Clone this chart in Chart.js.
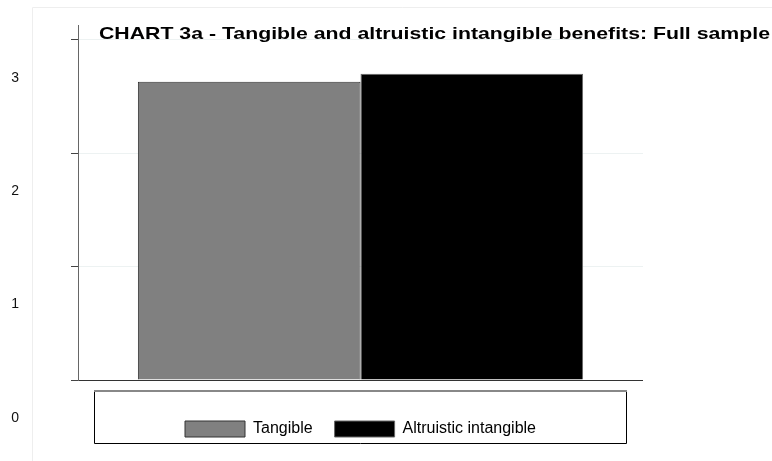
<!DOCTYPE html>
<html>
<head>
<meta charset="utf-8">
<script src="https://cdn.jsdelivr.net/npm/chart.js@4.4.1/dist/chart.umd.min.js"></script>
<style>
  html, body { margin: 0; padding: 0; background: #fff; }
  #wrap { width: 772px; height: 461px; }
</style>
</head>
<body>
<div id="wrap"><canvas id="c" width="772" height="461"></canvas></div>
<script>
// Chart data
const categories = ['Full sample'];
const seriesNames = ['Tangible', 'Altruistic intangible'];
const tangible = [2.63];
const altruistic = [2.70];
const yTicks = [0, 1, 2, 3];
const titleText = 'CHART 3a - Tangible and altruistic intangible benefits: Full sample';

const FONT = '"Liberation Sans", Arial, Helvetica, sans-serif';

// Title, outer frame and legend frame drawn around the chart
const decorations = {
  id: 'decorations',
  beforeDraw(chart) {
    const ctx = chart.ctx;
    ctx.save();
    ctx.strokeStyle = '#eeeeee';
    ctx.lineWidth = 1;
    ctx.beginPath();
    ctx.moveTo(32.5, 461);
    ctx.lineTo(32.5, 7.5);
    ctx.lineTo(772, 7.5);
    ctx.stroke();
    ctx.restore();
  },
  afterDraw(chart) {
    const ctx = chart.ctx;
    ctx.save();
    // legend frame
    ctx.strokeStyle = '#000';
    ctx.lineWidth = 1;
    ctx.beginPath();
    ctx.moveTo(94.5, 391);
    ctx.lineTo(94.5, 443.5);
    ctx.lineTo(626.5, 443.5);
    ctx.lineTo(626.5, 391);
    ctx.stroke();
    ctx.strokeStyle = '#888';
    ctx.lineWidth = 2;
    ctx.beginPath();
    ctx.moveTo(94, 391);
    ctx.lineTo(627, 391);
    ctx.stroke();
    // title, set in a wide bold face
    ctx.fillStyle = '#000';
    ctx.font = 'bold 17px ' + FONT;
    ctx.textBaseline = 'alphabetic';
    ctx.textAlign = 'left';
    const w = ctx.measureText(titleText).width;
    ctx.translate(99, 38.5);
    ctx.scale(671 / w, 1);
    ctx.fillText(titleText, 0, 0);
    ctx.restore();
  }
};

new Chart(document.getElementById('c'), {
  type: 'bar',
  data: {
    labels: categories,
    datasets: [
      {
        label: seriesNames[0],
        data: tangible,
        backgroundColor: '#808080',
        borderColor: '#333',
        borderWidth: 1
      },
      {
        label: seriesNames[1],
        data: altruistic,
        backgroundColor: '#000000',
        borderColor: '#666',
        borderWidth: 1
      }
    ]
  },
  options: {
    responsive: false,
    animation: false,
    devicePixelRatio: 1,
    layout: { padding: { top: 25, right: 129, bottom: 14, left: 0 } },
    datasets: { bar: { categoryPercentage: 0.788, barPercentage: 1 } },
    plugins: {
      title: { display: false },
      tooltip: { enabled: false },
      legend: {
        position: 'bottom',
        fullSize: false,
        labels: {
          boxWidth: 60,
          boxHeight: 16,
          padding: 22,
          color: '#000',
          font: { family: FONT, size: 16 }
        }
      }
    },
    scales: {
      x: {
        display: true,
        ticks: { display: false },
        grid: { display: false, drawTicks: false },
        border: { display: false },
        afterFit(scale) { scale.height = 19; }
      },
      y: {
        min: 0,
        max: 3.13,
        afterFit(scale) {
          scale.width = 78;
          scale.paddingTop = 0;
          scale.paddingBottom = 0;
        },
        afterBuildTicks(scale) { scale.ticks = yTicks.map(v => ({ value: v })); },
        ticks: {
          stepSize: 1,
          includeBounds: false,
          padding: 52,
          labelOffset: 38,
          color: '#111',
          font: { family: FONT, size: 14 }
        },
        grid: {
          drawTicks: true,
          tickLength: 7,
          lineWidth: 1,
          color: c => (c.tick && c.tick.value === 0 ? '#333' : '#edf2f2'),
          tickColor: '#444'
        },
        border: { display: true, color: '#666', width: 1 }
      }
    }
  },
  plugins: [decorations]
});
</script>
</body>
</html>
